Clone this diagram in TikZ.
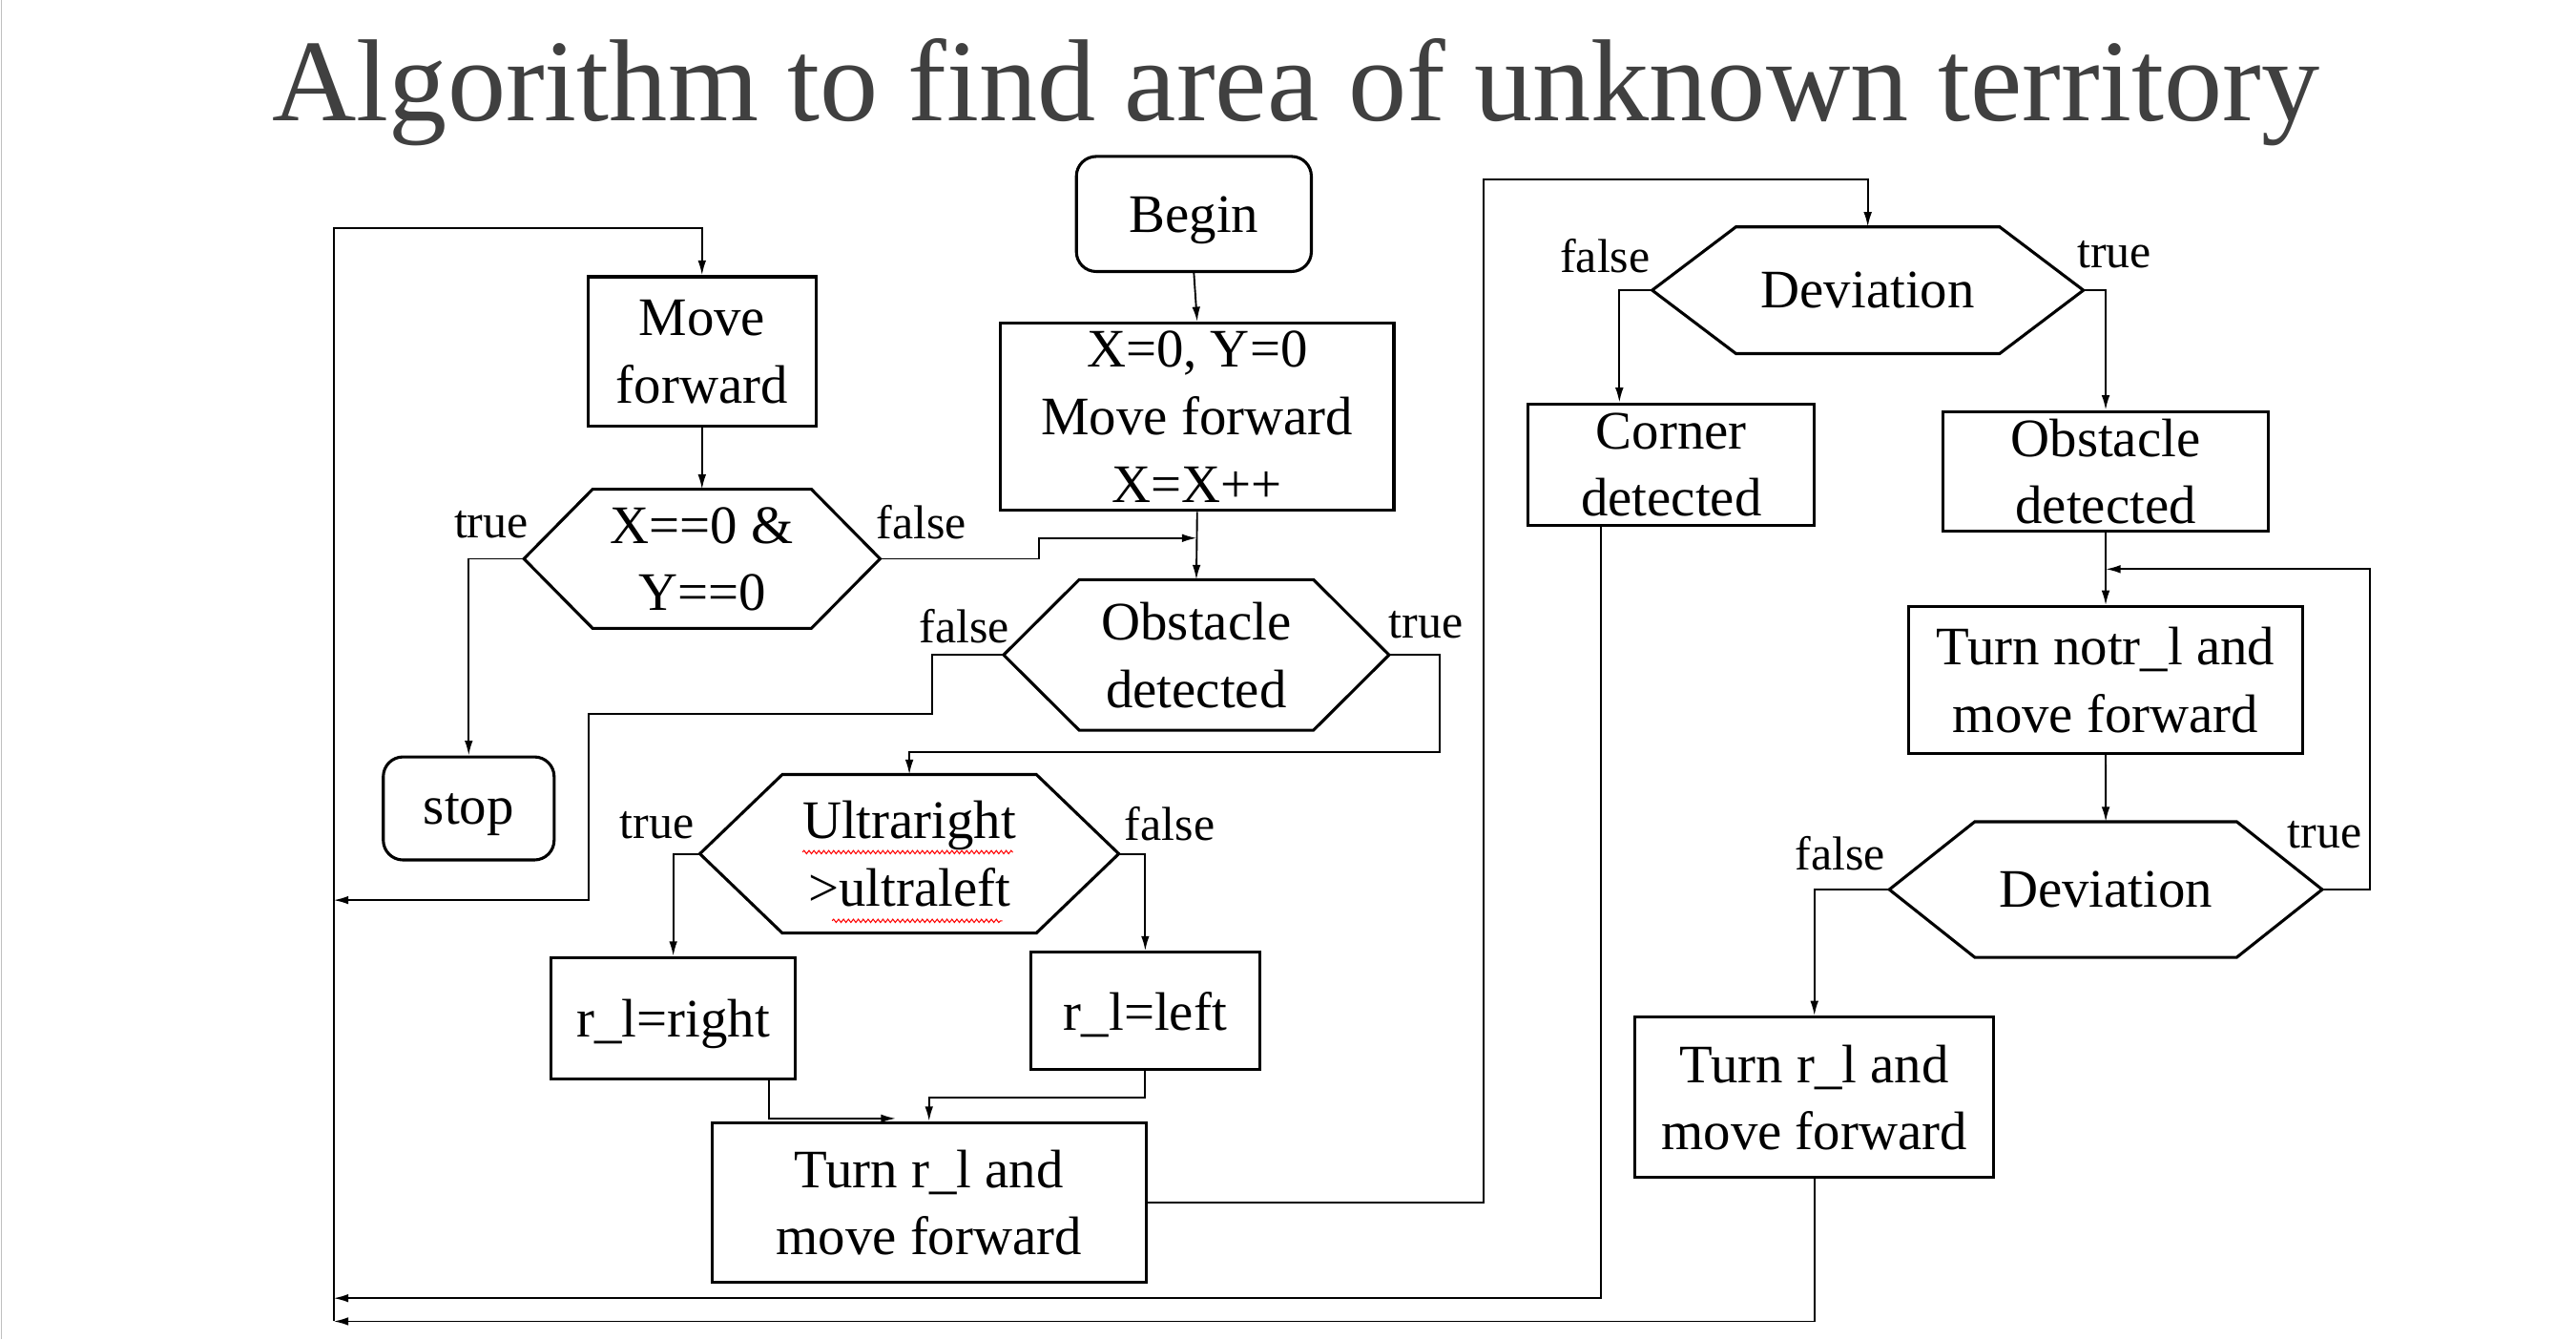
\documentclass[tikz,border=0pt]{standalone}
\usepackage{fontspec}
\setmainfont{Liberation Serif}
\usetikzlibrary{arrows.meta,decorations.pathmorphing}
\definecolor{titlegray}{HTML}{404040}

\newcommand\flowfont{\fontsize{33}{41}\selectfont}
\newcommand\flowlabelfont{\fontsize{29}{33}\selectfont}
\newcommand\flowhex[2]{
  \draw[boxline] (#1.west) -- ([xshift=#2]#1.north west) -- ([xshift=-#2]#1.north east)
    -- (#1.east) -- ([xshift=-#2]#1.south east) -- ([xshift=#2]#1.south west) -- cycle ;
}

\begin{document}
\begin{tikzpicture}[x=1pt, y=-1pt,
    boxline/.style={line width=1.8pt, line join=miter},
    flowbox/.style={draw, boxline, font=\flowfont, align=center, inner sep=0pt, text depth=0pt},
    termbox/.style={flowbox, rounded corners=12pt},
    decision/.style={font=\flowfont, align=center, inner sep=0pt, text depth=0pt},
    flowlabel/.style={font=\flowlabelfont, inner sep=0pt},
    flow/.style={line width=1.1pt, -{Latex[length=9pt,width=5pt]}},
    spell/.style={red, line width=0.6pt, decorate,
      decoration={snake, amplitude=1pt, segment length=3pt}}]
  \useasboundingbox[fill=white] (0,0) rectangle (1568,815);
  \draw[gray!50, line width=0.8pt] (0.8,0) -- (0.8,815);

  \node[font=\fontsize{71}{80}\selectfont, text=titlegray, anchor=base, inner sep=0pt]
    (title) at (789,73.2) {Algorithm to find area of unknown territory};

  % left part
  \node[termbox, minimum width=143pt, minimum height=70pt] (begin) at (726.7,130.2) {Begin};
  \node[flowbox, minimum width=239.5pt, minimum height=114pt] (init) at (728.7,253.6)
    {X=0, Y=0\\Move forward\\X=X++};
  \node[flowbox, minimum width=139pt, minimum height=91pt] (move) at (427.3,213.9) {Move\\forward};
  \node[decision, minimum width=216.4pt, minimum height=84.2pt] (check) at (427.3,340) {X==0 \&\\Y==0};
  \flowhex{check}{41.8pt}
  \node[termbox, minimum width=104pt, minimum height=62.7pt] (stop) at (285.3,491.9) {stop};
  \node[decision, minimum width=234.2pt, minimum height=91.2pt] (obst) at (728.2,398.5) {Obstacle\\detected};
  \flowhex{obst}{46pt}
  \node[decision, minimum width=254.6pt, minimum height=96.1pt] (ultra) at (553.5,519.5) {Ultraright\\>ultraleft};
  \flowhex{ultra}{50.2pt}
  \draw[spell] ([xshift=-65pt,yshift=1pt]ultra.center) -- ([xshift=63pt,yshift=1pt]ultra.center);
  \draw[spell] ([xshift=-47pt,yshift=-40.8pt]ultra.center) -- ([xshift=56.7pt,yshift=-40.8pt]ultra.center);
  \node[flowbox, minimum width=148.5pt, minimum height=73.9pt] (rbox) at (409.8,619.6) {r\_l=right};
  \node[flowbox, minimum width=139.1pt, minimum height=71.5pt] (lbox) at (697.1,615.2) {r\_l=left};
  \node[flowbox, minimum width=264.4pt, minimum height=96.9pt] (turn) at (565.5,731.6)
    {Turn r\_l and\\move forward};

  % right part
  \node[decision, minimum width=262.1pt, minimum height=76.7pt] (devA) at (1136.9,176.6) {Deviation};
  \flowhex{devA}{51pt}
  \node[flowbox, minimum width=174.2pt, minimum height=73.8pt] (corner) at (1017.3,282.7) {Corner\\detected};
  \node[flowbox, minimum width=198.2pt, minimum height=72.6pt] (obstB) at (1281.7,286.7) {Obstacle\\detected};
  \node[flowbox, minimum width=240pt, minimum height=89.2pt] (turnNot) at (1281.7,413.8)
    {Turn notr\_l and\\move forward};
  \node[decision, minimum width=263.1pt, minimum height=82.1pt] (devB) at (1281.75,541.25) {Deviation};
  \flowhex{devB}{52pt}
  \node[flowbox, minimum width=218.6pt, minimum height=97.6pt] (turnB) at (1104.4,667.7)
    {Turn r\_l and\\move forward};

  % branch labels
  \node[flowlabel] (checkT) at (299,319) {true};
  \node[flowlabel] (checkF) at (561,318) {false};
  \node[flowlabel] (obstF) at (587,381) {false};
  \node[flowlabel] (obstT) at (868,380) {true};
  \node[flowlabel] (ultraT) at (400,502) {true};
  \node[flowlabel] (ultraF) at (712,501) {false};
  \node[flowlabel] (devAF) at (977,156) {false};
  \node[flowlabel] (devAT) at (1287,155) {true};
  \node[flowlabel] (devBF) at (1120,519) {false};
  \node[flowlabel] (devBT) at (1415,508) {true};

  % rails and joins
  \coordinate (railTop) at (203,139);
  \coordinate (railA) at (203,547.7);
  \coordinate (railB) at (203,789.9);
  \coordinate (railC) at (203,804);
  \coordinate (mergeA) at (728.5,327.4);
  \coordinate (loopTop) at (903.1,109.1);
  \coordinate (loopIn) at (1281.7,346.3);

  % connectors
  \draw[flow] (railC) -- (railTop) -| (move.north);
  \draw[flow] (begin.south) -- (init.north);
  \draw[flow] (init.south) -- (obst.north);
  \draw[flow] (move.south) -- (check.north);
  \draw[flow] (check.east) -- ++(96.9,0) |- (mergeA);
  \draw[flow] (check.west) -| (stop.north);
  \draw[flow] (obst.west) -- ++(-43.6,0) -- ++(0,36) -- ++(-208.9,0) |- (railA);
  \draw[flow] (obst.east) -- ++(30.7,0) |- ([yshift=13.6pt]ultra.north) -- (ultra.north);
  \draw[flow] (ultra.west) -| (rbox.north);
  \draw[flow] (ultra.east) -| (lbox.north);
  \draw[flow] ([xshift=58.2pt]rbox.south) |- ([xshift=-20.2pt,yshift=1.7pt]turn.north);
  \draw[flow] (lbox.south) -- ++(0,15.9) -| (turn.north);
  \draw[flow] (turn.east) -| (loopTop) -| (devA.north);
  \draw[flow] (devA.west) -| ([xshift=-31.6pt]corner.north);
  \draw[flow] (devA.east) -| (obstB.north);
  \draw[flow] ([xshift=-42.7pt]corner.south) |- (railB);
  \draw[flow] (obstB.south) -- (turnNot.north);
  \draw[flow] (turnNot.south) -- (devB.north);
  \draw[flow] (devB.east) -- ++(28.9,0) |- (loopIn);
  \draw[flow] (devB.west) -| (turnB.north);
  \draw[flow] (turnB.south) |- (railC);
\end{tikzpicture}
\end{document}
